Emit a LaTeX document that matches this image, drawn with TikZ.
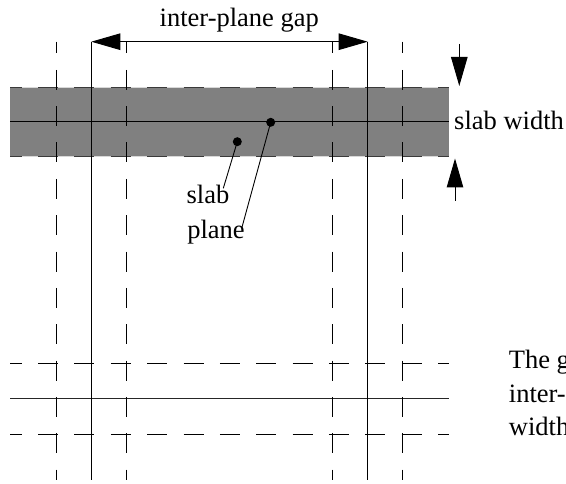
\documentclass[tikz,border=0pt]{standalone}
\usepackage{fontspec}
\setmainfont{Liberation Serif}
\usetikzlibrary{arrows.meta}
\definecolor{slabgrey}{HTML}{808080}
\definecolor{edgegrey}{HTML}{3A3A3A}
\definecolor{edgelight}{HTML}{D8D8D8}
\begin{document}
\begin{tikzpicture}[x=1pt,y=-1pt,
  lbl/.style={font=\fontsize{26.5}{33.5}\selectfont, inner sep=0pt},
  guide/.style={line width=1pt, dash pattern=on 20pt off 16.36pt, dash phase=8.3pt},
  solidline/.style={line width=1pt},
  bigtip/.style={-{Triangle[length=29pt,width=16.5pt]}},
  dot/.style={circle, fill=black, minimum size=9pt, inner sep=0pt},
  leader/.style={line width=0.9pt}]
\useasboundingbox (0,0) rectangle (566,484);

% key positions
\coordinate (vA) at (56.7,41.7);  \coordinate (vAb) at (56.7,480);
\coordinate (vB) at (91.3,41.7);  \coordinate (vBb) at (91.3,480);
\coordinate (vC) at (126,41.7);   \coordinate (vCb) at (126,480);
\coordinate (vD) at (332.7,41.7); \coordinate (vDb) at (332.7,480);
\coordinate (vE) at (367.7,41.7); \coordinate (vEb) at (367.7,480);
\coordinate (vF) at (402.3,41.7); \coordinate (vFb) at (402.3,480);

% the slab
\fill[slabgrey] (10,87.7) rectangle (448.5,156.7);
\draw[line width=1pt, draw=edgelight] (10,87.7) -- (448.5,87.7);
\draw[line width=1pt, draw=edgelight] (10,156.7) -- (448.5,156.7);
\draw[guide, draw=edgegrey] (10,87.7) -- (448.5,87.7);
\draw[guide, draw=edgegrey] (10,156.7) -- (448.5,156.7);
\draw[solidline] (10,122) -- (448.5,122);

% second slab boundaries and plane
\draw[guide] (10,364) -- (448.5,364);
\draw[solidline, draw=black!85] (10,399) -- (448.5,399);
\draw[guide] (10,434) -- (448.5,434);

% vertical planes and slab boundaries
\draw[guide] (vA) -- (vAb);
\draw[guide] (vC) -- (vCb);
\draw[guide] (vD) -- (vDb);
\draw[guide] (vF) -- (vFb);
\draw[solidline] (vB) -- (vBb);
\draw[solidline] (vE) -- (vEb);

% inter-plane gap
\draw[solidline, {Triangle[length=29pt,width=16.5pt]}-{Triangle[length=29pt,width=16.5pt]}]
  (vB) -- (vE);
\node[lbl, anchor=base] (gaplabel) at (239.3,26.7) {inter-plane gap};

% slab width
\coordinate (swtop) at (459.3,44);
\coordinate (swtoptip) at (459.3,86);
\coordinate (swbot) at (455,201);
\coordinate (swbottip) at (455,158.5);
\draw[solidline, bigtip] (swtop) -- (swtoptip);
\draw[solidline, bigtip] (swbot) -- (swbottip);
\node[lbl, anchor=base west] (swlabel) at (454,130) {slab width};

% labels for slab and plane
\node[dot] (slabdot) at (237.3,141.7) {};
\node[dot] (planedot) at (270.7,122.3) {};
\node[lbl, anchor=base] (slablabel) at (208,203.3) {slab};
\node[lbl, anchor=base] (planelabel) at (216,238.3) {plane};
\coordinate (slabend) at (223.3,188.3);
\coordinate (planeend) at (241.7,228.3);
\draw[leader] (slabdot.center) -- (slabend);
\draw[leader] (planedot.center) -- (planeend);

% note at the right (base anchor sits on the last line)
\node[lbl, anchor=base west, align=left] (note) at (508.7,435.5)
  {The gap\\inter-plane\\width};
\end{tikzpicture}
\end{document}
